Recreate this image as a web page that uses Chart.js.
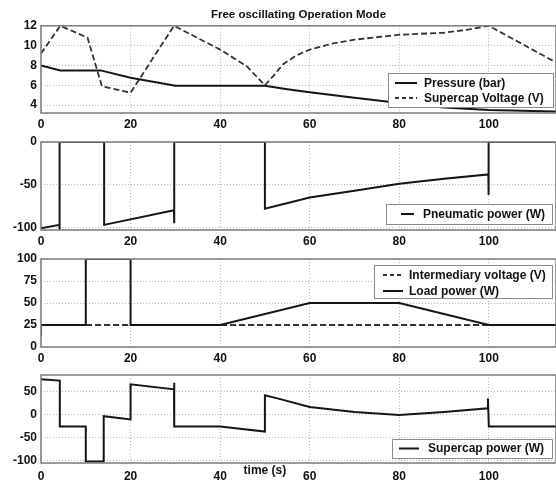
<!DOCTYPE html>
<html lang="en">
<head>
<meta charset="UTF-8">
<title>Free oscillating Operation Mode</title>
<script src="https://cdn.jsdelivr.net/npm/chart.js"></script>
<style>
    html, body { margin: 0; padding: 0; background: #fff; }
    #wrap { position: relative; width: 556px; height: 481px; overflow: hidden; }
    #wrap canvas { position: absolute; left: 0; }
</style>
</head>
<body>
<div id="wrap">
    <canvas id="c1" width="556" height="130" style="top:0px"></canvas>
    <canvas id="c2" width="556" height="116" style="top:130px"></canvas>
    <canvas id="c3" width="556" height="116" style="top:246px"></canvas>
    <canvas id="c4" width="556" height="119" style="top:362px"></canvas>
</div>

<script>
    // time axis (s)
    const xTicks = [0, 20, 40, 60, 80, 100];

    // plot 1 - pressure and supercap voltage
    const yTicks1 = [4, 6, 8, 10, 12];
    const tPressure = [0, 4.3, 13.3, 20, 30, 50, 55, 60, 70, 80, 90, 100, 115];
    const pressure  = [8, 7.5, 7.5, 6.75, 5.95, 5.95, 5.6, 5.3, 4.75, 4.2, 3.75, 3.5, 3.35];
    const tVoltage  = [0, 4.3, 10.4, 13.6, 20, 29.7, 40, 46, 50, 52, 54, 57, 60, 65, 70, 80, 90, 95, 100, 115];
    const voltage   = [9.2, 12, 10.8, 5.9, 5.25, 12, 9.6, 7.9, 6, 7, 8.1, 9, 9.6, 10.2, 10.6, 11.1, 11.3, 11.6, 12, 8.3];

    // plot 2 - pneumatic power
    const yTicks2 = [-100, -50, 0];
    const tPneu = [0, 4.1, 4.1, 4.2, 14.1, 14.1, 29.7, 29.7, 29.8, 50, 50, 60, 70, 80, 90, 99.9, 99.9, 100, 115];
    const pneu  = [-101, -97, -103, 0, 0, -97, -80, -95, 0, 0, -78, -65, -57, -49, -43, -38, -62, 0, 0];

    // plot 3 - intermediary voltage and load power
    const yTicks3 = [0, 25, 50, 75, 100];
    const tInter = [0, 115];
    const inter  = [25, 25];
    const tLoad = [0, 0, 10, 10, 20, 20, 40, 60, 80, 100, 115];
    const load  = [12, 25, 25, 100, 100, 25, 25, 50, 50, 25, 25];

    // plot 4 - supercap power
    const yTicks4 = [-100, -50, 0, 50];
    const tCap = [0, 4.2, 4.2, 10, 10, 14, 14, 20, 20, 29.7, 29.7, 29.8, 40, 50, 50, 53, 60, 70, 80, 90, 99.8, 99.8, 100, 115];
    const cap  = [76, 73, -26, -26, -102, -102, -4, -11, 65, 54, 68, -26, -26, -37, 41, 34, 16, 5, -1.5, 5, 13, 34, -26, -26];

    const FONT = "'Liberation Sans', Arial, sans-serif";

    function pts(ts, vs) {
        return ts.map((t, i) => ({ x: t, y: vs[i] }));
    }

    function line(label, ts, vs, dashed, order) {
        return {
            label: label,
            data: pts(ts, vs),
            borderColor: dashed ? '#333' : '#151515',
            borderWidth: dashed ? 1.8 : 2,
            borderDash: dashed ? [6, 3] : [],
            pointRadius: 0,
            tension: 0,
            fill: false,
            order: order || 0
        };
    }

    // frame around the plot area
    const frame = {
        id: 'frame',
        afterDraw(chart) {
            const a = chart.chartArea, ctx = chart.ctx;
            ctx.save();
            ctx.strokeStyle = '#7a7a7a';
            ctx.lineWidth = 1.5;
            ctx.strokeRect(a.left, a.top, a.right - a.left, a.bottom - a.top);
            ctx.restore();
        }
    };

    // boxed legend drawn inside the plot area
    const boxLegend = {
        id: 'boxLegend',
        afterDraw(chart, args, o) {
            if (!o || !o.items) return;
            const a = chart.chartArea, ctx = chart.ctx;
            const x = a.right - o.right - o.width;
            const y = o.top != null ? a.top + o.top : a.bottom - o.bottom - o.height;
            ctx.save();
            ctx.fillStyle = '#fff';
            ctx.fillRect(x, y, o.width, o.height);
            ctx.strokeStyle = '#8a8a8a';
            ctx.lineWidth = 1;
            ctx.strokeRect(x + 0.5, y + 0.5, o.width, o.height);
            ctx.font = 'bold 12px ' + FONT;
            ctx.textBaseline = 'middle';
            ctx.fillStyle = '#111';
            o.items.forEach((idx, i) => {
                const ds = chart.data.datasets[idx];
                const cy = y + o.rows[i];
                ctx.beginPath();
                ctx.setLineDash(ds.borderDash.length ? [4, 3] : []);
                ctx.strokeStyle = ds.borderColor;
                ctx.lineWidth = 2;
                ctx.moveTo(x + o.lineOff, cy);
                ctx.lineTo(x + o.lineOff + o.lineLen, cy);
                ctx.stroke();
                ctx.setLineDash([]);
                ctx.fillText(ds.label, x + o.textOff, cy + 0.5);
            });
            ctx.restore();
        }
    };

    // x-axis label sitting between the tick labels
    const xTitle = {
        id: 'xTitle',
        afterDraw(chart, args, o) {
            if (!o || !o.text) return;
            const ctx = chart.ctx;
            ctx.save();
            ctx.font = 'bold 12px ' + FONT;
            ctx.fillStyle = '#111';
            ctx.textAlign = 'center';
            ctx.textBaseline = 'middle';
            ctx.fillText(o.text, chart.scales.x.getPixelForValue(o.at), chart.chartArea.bottom + o.dy);
            ctx.restore();
        }
    };

    function makeChart(id, datasets, yMin, yMax, yTicks, xAxisH, padTop, xPad, extra) {
        const tickFont = { family: FONT, size: 12, weight: 'bold' };
        const plugins = Object.assign({
            legend: { display: false },
            tooltip: { enabled: false },
            title: { display: false }
        }, extra);
        return new Chart(document.getElementById(id), {
            type: 'line',
            data: { datasets: datasets },
            options: {
                responsive: false,
                animation: false,
                events: [],
                layout: { padding: { top: padTop, right: 0, left: 0, bottom: 0 } },
                scales: {
                    x: {
                        type: 'linear',
                        min: 0,
                        max: 115,
                        afterBuildTicks: s => { s.ticks = xTicks.map(v => ({ value: v })); },
                        afterFit: s => { s.height = xAxisH; },
                        grid: { color: '#b8b8b8', drawTicks: false, lineWidth: 1 },
                        border: { display: false, dash: [1, 2] },
                        ticks: { font: tickFont, color: '#111', padding: xPad, maxRotation: 0 }
                    },
                    y: {
                        type: 'linear',
                        min: yMin,
                        max: yMax,
                        afterBuildTicks: s => { s.ticks = yTicks.map(v => ({ value: v })); },
                        afterFit: s => { s.width = 41; },
                        grid: { color: '#b8b8b8', drawTicks: false, lineWidth: 1 },
                        border: { display: false, dash: [1, 2] },
                        ticks: { font: tickFont, color: '#111', padding: 4 }
                    }
                },
                plugins: plugins
            },
            plugins: [frame, boxLegend, xTitle]
        });
    }

    makeChart('c1', [
        line('Pressure (bar)', tPressure, pressure, false, 0),
        line('Supercap Voltage (V)', tVoltage, voltage, true, 1)
    ], 3.2, 12, yTicks1, 17, 0, 4, {
        title: {
            display: true,
            text: 'Free oscillating Operation Mode',
            font: { family: FONT, size: 11.5, weight: 'bold' },
            color: '#111',
            fullSize: false,
            padding: { top: 8, bottom: 4 }
        },
        boxLegend: { items: [0, 1], width: 165, height: 34, right: 3, bottom: 6, rows: [10, 25], lineOff: 7, lineLen: 22, textOff: 36 }
    });

    makeChart('c2', [
        line('Pneumatic power (W)', tPneu, pneu, false, 0)
    ], -103, 0, yTicks2, 16, 12, 4, {
        boxLegend: { items: [0], width: 166, height: 20, right: 4, bottom: 6, rows: [10], lineOff: 15, lineLen: 13, textOff: 37 }
    });

    makeChart('c3', [
        line('Intermediary voltage (V)', tInter, inter, true, 1),
        line('Load power (W)', tLoad, load, false, 0)
    ], 0, 100, yTicks3, 15, 13, 4, {
        boxLegend: { items: [0, 1], width: 178, height: 33, right: 4, top: 6, rows: [10, 26], lineOff: 9, lineLen: 20, textOff: 35 }
    });

    makeChart('c4', [
        line('Supercap power (W)', tCap, cap, false, 0)
    ], -105, 85, yTicks4, 18, 13, 6, {
        boxLegend: { items: [0], width: 160, height: 19, right: 4, bottom: 5, rows: [9.5], lineOff: 7, lineLen: 20, textOff: 36 },
        xTitle: { text: 'time (s)', at: 50, dy: 8 }
    });
</script>
</body>
</html>
